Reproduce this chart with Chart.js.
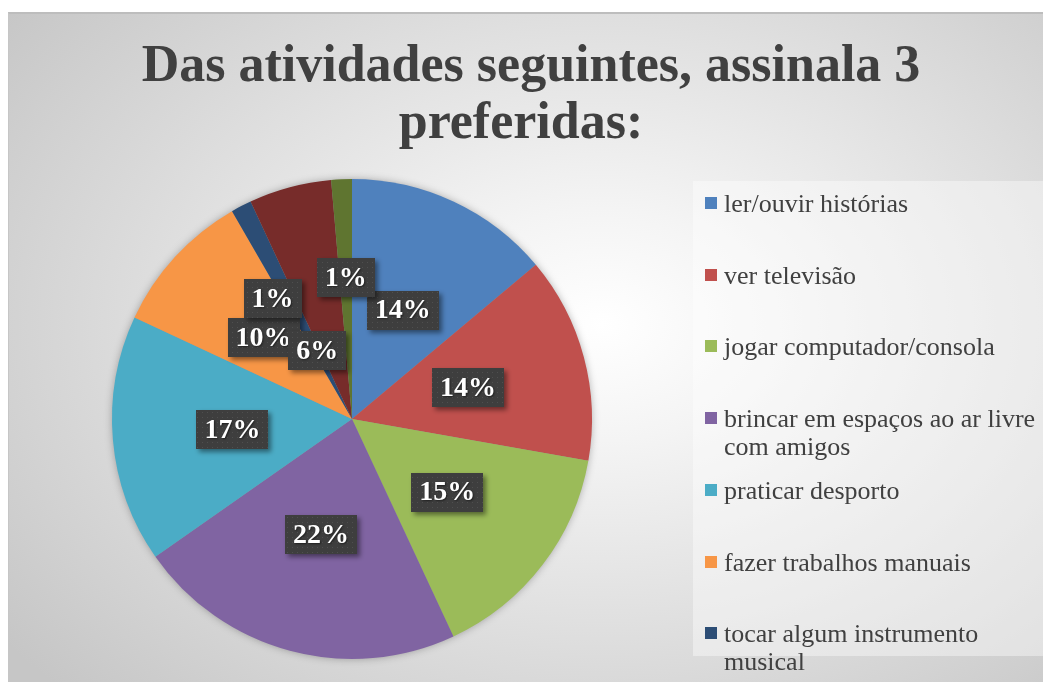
<!DOCTYPE html>
<html>
<head>
<meta charset="utf-8">
<script src="https://cdn.jsdelivr.net/npm/chart.js@4.4.0/dist/chart.umd.min.js"></script>
<style>
html, body { margin: 0; padding: 0; background: #fff; overflow: hidden; }
#frame {
    position: absolute; left: 8px; top: 12px; width: 1040px; height: 675px;
    border-top: 2px solid #bdbdbd; border-left: 1px solid #c6c6c6;
    background: radial-gradient(ellipse 72% 78% at 57% 46%, #ffffff 0%, #f4f4f4 22%, #dfdfdf 58%, #c6c6c6 100%);
}
canvas { position: absolute; left: 0; top: 0; }
</style>
</head>
<body>
<div id="frame"></div>
<canvas id="pieChart" width="1043" height="682"></canvas>
<script>
var categories = [
    'ler/ouvir histórias',
    'ver televisão',
    'jogar computador/consola',
    'brincar em espaços ao ar livre com amigos',
    'praticar desporto',
    'fazer trabalhos manuais',
    'tocar algum instrumento musical',
    'outra atividade (8)',
    'outra atividade (9)'
];
var answers = [10, 10, 11, 16, 12, 7, 1, 4, 1];
var sliceColors = ['#4F81BD', '#C0504D', '#9BBB59', '#8064A2', '#4BACC6', '#F79646', '#2C4D75', '#772C2A', '#5F7530'];
var titleLines = ['Das atividades seguintes, assinala 3', 'preferidas:'];

// only the first 7 entries fit in the legend box of the original
var legendShown = 7;
// small slices get their labels pushed around (radius factor, angle shift in degrees)
var labelNudge = { 6: { r: 0.6, da: -6 }, 7: { r: 0.32, da: -12 }, 8: { r: 0.59, da: 0 } };

var serif = '"Liberation Serif", "DejaVu Serif", serif';

// dotted dark fill used behind the percentage labels
var tile = document.createElement('canvas');
tile.width = 5; tile.height = 5;
var tctx = tile.getContext('2d');
tctx.fillStyle = '#3e3e3e';
tctx.fillRect(0, 0, 5, 5);
tctx.fillStyle = '#4f4f4f';
tctx.fillRect(2, 2, 1, 1);

var pieShadow = {
    id: 'pieShadow',
    beforeDatasetsDraw: function (chart) {
        var arc = chart.getDatasetMeta(0).data[0];
        var ctx = chart.ctx;
        ctx.save();
        ctx.shadowColor = 'rgba(0,0,0,0.35)';
        ctx.shadowBlur = 9;
        ctx.fillStyle = '#999';
        ctx.beginPath();
        ctx.arc(arc.x, arc.y, arc.outerRadius - 1, 0, Math.PI * 2);
        ctx.fill();
        ctx.restore();
    }
};

var pctLabels = {
    id: 'pctLabels',
    afterDatasetsDraw: function (chart) {
        var ctx = chart.ctx;
        var meta = chart.getDatasetMeta(0);
        var total = answers.reduce(function (a, b) { return a + b; }, 0);
        var pattern = ctx.createPattern(tile, 'repeat');
        ctx.save();
        ctx.font = 'bold 28px ' + serif;
        ctx.textAlign = 'center';
        ctx.textBaseline = 'middle';
        meta.data.forEach(function (arc, i) {
            var p = arc.getProps(['x', 'y', 'startAngle', 'endAngle', 'outerRadius'], true);
            var n = labelNudge[i] || {};
            var ang = (p.startAngle + p.endAngle) / 2 + (n.da || 0) * Math.PI / 180;
            var rr = p.outerRadius * (n.r || 0.5);
            var cx = p.x + Math.cos(ang) * rr;
            var cy = p.y + Math.sin(ang) * rr;
            var txt = Math.round(answers[i] / total * 100) + '%';
            var w = ctx.measureText(txt).width + 16;
            var h = 39;
            ctx.shadowColor = 'rgba(0,0,0,0.45)';
            ctx.shadowBlur = 5;
            ctx.shadowOffsetX = 3;
            ctx.shadowOffsetY = 3;
            ctx.fillStyle = pattern;
            ctx.fillRect(Math.round(cx - w / 2), Math.round(cy - h / 2), Math.round(w), h);
            ctx.shadowColor = 'rgba(0,0,0,0.5)';
            ctx.shadowBlur = 2;
            ctx.shadowOffsetX = 1;
            ctx.shadowOffsetY = 1;
            ctx.fillStyle = '#ffffff';
            ctx.fillText(txt, cx, cy + 1);
        });
        ctx.restore();
    }
};

function wrapText(ctx, text, maxW) {
    var words = text.split(' ');
    var lines = [];
    var line = '';
    words.forEach(function (wd) {
        var test = line ? line + ' ' + wd : wd;
        if (line && ctx.measureText(test).width > maxW) {
            lines.push(line);
            line = wd;
        } else {
            line = test;
        }
    });
    lines.push(line);
    return lines;
}

// title drawn by hand: the built-in one is squeezed into the padded pie column
var wideTitle = {
    id: 'wideTitle',
    afterDraw: function (chart) {
        var ctx = chart.ctx;
        ctx.save();
        ctx.font = 'bold 52px ' + serif;
        ctx.fillStyle = '#404040';
        ctx.textAlign = 'center';
        ctx.textBaseline = 'alphabetic';
        ctx.fillText(titleLines[0], 531, 81);
        ctx.fillText(titleLines[1], 521, 138);
        ctx.restore();
    }
};

var boxLegend = {
    id: 'boxLegend',
    afterDraw: function (chart) {
        var ctx = chart.ctx;
        ctx.save();
        ctx.fillStyle = 'rgba(255,255,255,0.4)';
        ctx.fillRect(693, 181, 360, 475);
        ctx.font = '26px ' + serif;
        ctx.textBaseline = 'alphabetic';
        ctx.textAlign = 'left';
        for (var i = 0; i < legendShown; i++) {
            var yc = 203 + i * 71.7;
            ctx.fillStyle = sliceColors[i];
            ctx.fillRect(705, Math.round(yc - 6), 12, 12);
            ctx.fillStyle = '#404040';
            var lines = wrapText(ctx, categories[i], 318);
            lines.forEach(function (ln, k) {
                ctx.fillText(ln, 724, yc + 9 + k * 28);
            });
        }
        ctx.restore();
    }
};

var ctxPie = document.getElementById('pieChart').getContext('2d');

var myChart = new Chart(ctxPie, {
    type: 'pie',
    data: {
        labels: categories,
        datasets: [{
            data: answers,
            backgroundColor: sliceColors,
            borderWidth: 0
        }]
    },
    options: {
        responsive: false,
        animation: false,
        layout: {
            padding: { left: 112, right: 451, top: 179, bottom: 23 }
        },
        plugins: {
            legend: { display: false },
            tooltip: { enabled: false },
            title: { display: false }
        }
    },
    plugins: [pieShadow, pctLabels, wideTitle, boxLegend]
});
</script>
</body>
</html>
